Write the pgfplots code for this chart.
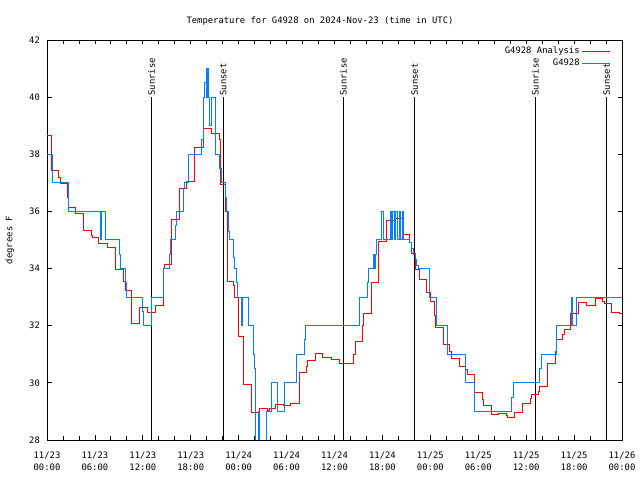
\documentclass[border=0pt]{standalone}
\usepackage{fontspec}
\setmainfont{DejaVu Sans Mono}
\usepackage{pgfplots}
\pgfplotsset{compat=1.18}
\definecolor{obsblue}{RGB}{0,128,255}
\definecolor{anred}{RGB}{255,0,0}
\begin{document}
\fontsize{8.9}{12.5}\selectfont
\begin{tikzpicture}[font=\fontsize{8.9}{12.5}\selectfont]
\useasboundingbox (0,0) rectangle (640bp,480bp);
\node at (320bp,459bp) {Temperature for G4928 on 2024-Nov-23 (time in UTC)};
\node[rotate=90] at (10bp,240bp) {degrees F};
\begin{axis}[
  at={(47bp,40bp)}, anchor=south west, scale only axis,
  width=575bp, height=400bp,
  xmin=0, xmax=72, ymin=28, ymax=42,
  xtick={0,6,...,72},
  xticklabels={{11/23\\00:00},{11/23\\06:00},{11/23\\12:00},{11/23\\18:00},{11/24\\00:00},{11/24\\06:00},{11/24\\12:00},{11/24\\18:00},{11/25\\00:00},{11/25\\06:00},{11/25\\12:00},{11/25\\18:00},{11/26\\00:00}},
  minor x tick num=2,
  ytick={28,30,...,42},
  /pgf/number format/assume math mode=true,
  xticklabel style={align=center, yshift=-8.5bp},
  yticklabel style={xshift=-4bp},
  major tick length=4.5bp, minor tick length=4bp,
  tick style={black, line width=0.8bp},
  axis line style={line width=0.8bp},
  clip mode=individual,
  legend style={draw=none, fill=none, at={(1,1)}, anchor=north east, xshift=-8bp, yshift=-3bp},
  legend plot pos=right, legend cell align=right,
  legend image code/.code={\draw[#1, line width=1.2bp] (0bp,0bp) -- (28bp,0bp);},
]
% sunrise / sunset lines
\addplot[black, line width=1bp, forget plot] coordinates {(13.1,28) (13.1,40)};
\addplot[black, line width=1bp, forget plot] coordinates {(22.07,28) (22.07,40)};
\addplot[black, line width=1bp, forget plot] coordinates {(37.1,28) (37.1,40)};
\addplot[black, line width=1bp, forget plot] coordinates {(46.03,28) (46.03,40)};
\addplot[black, line width=1bp, forget plot] coordinates {(61.15,28) (61.15,40)};
\addplot[black, line width=1bp, forget plot] coordinates {(70.07,28) (70.07,40)};

\addplot[anred, line width=1bp, const plot] coordinates {
(0,38.66) (0.55,37.44) (1.5,37.18) (1.63,36.97) (2.55,36.5) (2.75,36.13)
(3.59,35.94) (4.55,35.33) (5.59,35.16) (5.75,35.1) (6.51,34.87) (7.56,34.72)
(8.52,33.96) (9.56,33.56) (9.77,33.23) (10.56,32.07) (11.6,32.63) (12.57,32.45)
(13.6,32.71) (14.57,34.0) (14.7,34.13) (15.61,35.7) (16.53,36.79) (17.49,37.04)
(18.53,38.23) (19.58,38.91) (20.62,38.73) (21.58,38.53) (21.75,36.93) (22.37,35.99)
(22.62,33.54) (23.33,33.42) (23.54,32.97) (23.96,31.62) (24.58,29.93) (25.6,28.97)
(26.6,29.11) (27.63,29.02) (27.92,29.1) (28.63,29.25) (29.59,29.19) (30.55,29.28)
(31.6,30.35) (32.52,30.57) (32.64,30.77) (33.56,30.92) (33.65,31.03) (34.5,30.89)
(35.65,30.82) (36.6,30.66) (38.44,31.0) (38.65,31.44) (39.53,32.0) (39.61,32.43)
(40.57,33.52) (41.57,34.94) (42.53,35.68) (43.5,35.76) (44.62,35.18) (45.45,34.9)
(45.66,34.53) (46.2,33.95) (46.62,33.62) (47.55,33.16) (47.96,32.86) (48.46,32.37)
(48.67,31.94) (49.63,31.35) (50.46,31.1) (50.67,30.86) (51.63,30.57) (52.43,30.45)
(52.63,30.3) (53.51,29.67) (54.55,29.4) (54.63,29.2) (55.6,28.88) (56.52,28.93)
(57.56,28.87) (57.64,28.79) (58.6,28.97) (59.52,29.26) (60.48,29.45) (60.61,29.6)
(61.52,29.71) (61.73,29.87) (62.65,30.68) (63.61,31.1) (63.82,31.52) (64.57,31.7)
(64.74,31.85) (65.57,32.43) (66.53,32.82) (67.58,32.69) (68.62,32.96) (69.58,32.85)
(69.75,32.78) (70.71,32.47) (71.66,32.43) (72,32.43)
};
\addlegendentry{G4928 Analysis}

\addplot[obsblue, line width=1bp, const plot] coordinates {
(0,38) (0.67,37) (2.67,36) (6.72,35) (6.85,36) (7.35,35) (9.14,34.5) (9.22,34)
(9.85,33.5) (9.93,33) (11.93,32.5) (12.06,32) (13.06,33) (14.53,33.5) (14.65,34)
(15.4,34.5) (15.49,35) (16.11,35.5) (16.24,36) (17.07,36.8) (17.16,37) (17.7,37.5)
(17.78,38) (19.37,38.5) (19.58,40) (19.78,40.5) (19.91,41) (20.0,40) (20.05,41)
(20.1,40) (20.15,41) (20.2,40) (20.41,39) (20.62,40) (21.16,38) (21.66,37.5)
(21.87,37) (22.29,36.5) (22.5,36) (22.71,35.3) (22.91,35) (23.33,34.4) (23.54,34)
(23.75,33.5) (23.88,33) (24.38,32) (24.46,33) (25.21,32) (25.8,31) (26.0,30.5)
(26.13,27.5) (26.45,29) (26.6,27.5) (27.51,29) (28.05,30) (28.89,29) (29.8,30)
(31.3,31) (32.2,31.5) (32.35,32) (39.19,33) (40.1,33.5) (40.24,34) (40.87,34.5)
(41.0,34) (41.1,34.5) (41.28,35) (41.91,36) (42.11,35) (42.95,36) (43.1,35)
(43.3,36) (43.5,35) (43.7,36) (43.9,35) (44.1,36) (44.3,35) (44.5,36) (44.7,35)
(45.45,34.9) (45.7,34.7) (45.9,34.5) (46.1,34.3) (46.3,34.1)
(46.5,34) (47.88,33) (48.75,32) (50.1,31) (52.4,30) (53.5,29) (58.15,29.5)
(58.4,30) (61.73,30.5) (61.94,31) (63.85,32) (65.7,33) (65.82,32) (66.32,33) (72,33)
};
\addlegendentry{G4928}

\node[rotate=90, anchor=west, inner sep=1.5bp] at (axis cs:13.1,40) {Sunrise};
\node[rotate=90, anchor=west, inner sep=1.5bp] at (axis cs:22.07,40) {Sunset};
\node[rotate=90, anchor=west, inner sep=1.5bp] at (axis cs:37.1,40) {Sunrise};
\node[rotate=90, anchor=west, inner sep=1.5bp] at (axis cs:46.03,40) {Sunset};
\node[rotate=90, anchor=west, inner sep=1.5bp] at (axis cs:61.15,40) {Sunrise};
\node[rotate=90, anchor=west, inner sep=1.5bp] at (axis cs:70.07,40) {Sunset};
\end{axis}
\end{tikzpicture}
\end{document}
